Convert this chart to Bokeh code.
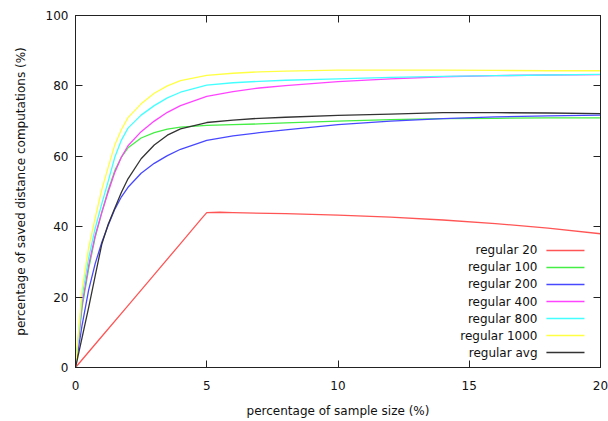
from bokeh.plotting import figure
from bokeh.models import LinearAxis, FixedTicker, Range1d
from bokeh.core.properties import value
from bokeh.embed import file_html
from bokeh.resources import INLINE

# ---- data ----
x_ticks = [0, 5, 10, 15, 20]
y_ticks = [0, 20, 40, 60, 80, 100]

x_label = "percentage of sample size (%)"
y_label = "percentage of saved distance computations (%)"

names = ["regular 20", "regular 100", "regular 200", "regular 400",
         "regular 800", "regular 1000", "regular avg"]
colors = ["#ff5555", "#44ee44", "#4848ff", "#ff44ff", "#44ffff", "#ffff44", "#333333"]

x_r20 = [0, 1, 2, 3, 4, 4.8, 5, 5.5, 6, 8, 10, 12, 14, 16, 18, 20]
y_r20 = [0, 8.8, 17.6, 26.4, 35.2, 42.3, 44.0, 44.1, 44.0, 43.7, 43.3, 42.7, 41.9, 40.9, 39.6, 38.0]

x_common = [0, 0.25, 0.5, 0.75, 1, 1.25, 1.5, 1.75, 2, 2.5, 3, 3.5, 4, 5, 6, 7, 8, 10, 12, 14, 16, 18, 20]
y_r100 = [0, 17, 28, 37, 44, 50.5, 56, 59.8, 62.4, 65.2, 66.7, 67.7, 68.3, 68.8, 69.0, 69.2, 69.5, 70.0, 70.4, 70.7, 70.8, 70.9, 70.9]
y_r200 = [0, 12, 22, 29.5, 35.5, 40.5, 45, 48.5, 51.2, 55.2, 58.0, 60.2, 62.0, 64.5, 65.8, 66.7, 67.5, 69.0, 70.0, 70.7, 71.2, 71.5, 71.7]
y_r400 = [0, 18, 29, 37.5, 44, 50, 55.5, 59.8, 63.0, 67.0, 70.0, 72.5, 74.4, 77.0, 78.4, 79.4, 80.1, 81.2, 82.0, 82.6, 82.9, 83.1, 83.2]
y_r800 = [0, 20, 31, 39.5, 46.5, 53, 59.8, 64.6, 68.0, 71.7, 74.4, 76.6, 78.2, 80.2, 80.9, 81.3, 81.6, 82.0, 82.4, 82.7, 82.9, 83.1, 83.3]
y_r1000 = [0, 22, 34, 42.5, 50.5, 57, 63.3, 67.6, 71, 74.9, 77.9, 80.0, 81.5, 83.0, 83.6, 84.0, 84.2, 84.5, 84.5, 84.5, 84.4, 84.3, 84.3]
y_ravg = [0, 8.5, 17, 26, 35, 40.8, 45.3, 49.8, 53.6, 59.3, 63.2, 66.0, 67.8, 69.6, 70.3, 70.8, 71.1, 71.6, 72.0, 72.4, 72.4, 72.3, 72.1]

series_x = [x_r20, x_common, x_common, x_common, x_common, x_common, x_common]
series_y = [y_r20, y_r100, y_r200, y_r400, y_r800, y_r1000, y_ravg]

FONT = "DejaVu Sans"
FS = "12px"

p = figure(width=608, height=421, output_backend="svg", toolbar_location=None,
           x_range=Range1d(0, 20), y_range=Range1d(0, 100),
           min_border_left=75, min_border_right=8, min_border_top=15, min_border_bottom=54)
p.grid.visible = False
p.outline_line_color = "#222222"
p.outline_line_width = 1
p.background_fill_color = "white"
p.border_fill_color = "white"

for ax, ticks in ((p.xaxis[0], x_ticks), (p.yaxis[0], y_ticks)):
    ax.ticker = FixedTicker(ticks=ticks)
    ax.major_tick_in = 7
    ax.major_tick_out = 0
    ax.minor_tick_line_color = None
    ax.axis_line_color = "#222222"
    ax.major_tick_line_color = "#222222"
    ax.major_label_text_font = FONT
    ax.major_label_text_font_size = FS
    ax.major_label_text_color = "#111111"
    ax.axis_label_text_font = FONT
    ax.axis_label_text_font_size = FS
    ax.axis_label_text_font_style = "normal"
    ax.axis_label_text_color = "#111111"

p.xaxis[0].axis_label = x_label
p.yaxis[0].axis_label = y_label
p.xaxis[0].major_label_standoff = 13
p.xaxis[0].axis_label_standoff = 11
p.yaxis[0].major_label_standoff = 7
p.yaxis[0].axis_label_standoff = 15

# mirrored ticks on top and right (labels not drawn)
for loc, ticks in (("above", x_ticks), ("right", y_ticks)):
    ax = LinearAxis(ticker=FixedTicker(ticks=ticks), major_tick_in=7, major_tick_out=0,
                    minor_tick_line_color=None, major_label_text_font_size="1px",
                    major_label_text_color=None,
                    major_label_standoff=0, axis_line_color="#222222",
                    major_tick_line_color="#222222")
    p.add_layout(ax, loc)

for xs, ys, c in zip(series_x, series_y, colors):
    p.line(xs, ys, line_color=c, line_width=1.3, line_join="round")

# gnuplot-style legend: text right-aligned, sample line on the right
leg_text_x = 17.6
leg_line_x0 = 17.94
leg_line_x1 = 19.39
leg_top = 33.24
leg_step = 4.83
for i, (nm, c) in enumerate(zip(names, colors)):
    yy = leg_top - i * leg_step
    p.text(x=[leg_text_x], y=[yy], text=[nm], text_font=value(FONT), text_font_size=FS,
           text_align="right", text_baseline="middle", text_color="#111111")
    p.line([leg_line_x0, leg_line_x1], [yy, yy], line_color=c, line_width=1.3)

open("out.html", "w").write(file_html(p, INLINE))
